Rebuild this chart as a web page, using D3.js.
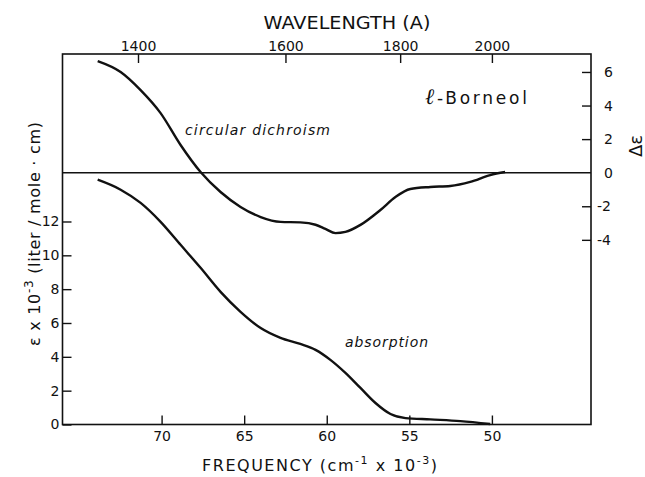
<!DOCTYPE html>
<html>
<head>
<meta charset="utf-8">
<script src="https://cdn.jsdelivr.net/npm/d3@7"></script>
<style>
  html, body { margin: 0; padding: 0; background: #fff; }
  svg { display: block; }
  text { font-family: "DejaVu Sans", sans-serif; fill: #111; }
</style>
</head>
<body>
<svg id="chart" width="645" height="477"></svg>
<script>
// ---- data ----
const freqTicks = [70, 65, 60, 55, 50];
const wavelengthTicks = [1400, 1600, 1800, 2000];
const epsTicks = [0, 2, 4, 6, 8, 10, 12];
const dEpsTicks = [6, 4, 2, 0, -2, -4];

// circular dichroism (frequency kcm^-1, Δε)
const cdFreq = [73.87, 72.48, 71.27, 70.06, 68.85, 67.64, 66.43, 65.22, 64.0, 62.8, 61.6, 60.68, 60.08, 59.47, 58.87, 57.96, 56.75, 55.84, 54.94, 53.73, 52.52, 51.31, 50.1, 49.2];
const cdVal  = [6.65, 6.0, 4.92, 3.55, 1.65, 0.04, -1.15, -2.04, -2.64, -2.93, -2.96, -3.1, -3.35, -3.6, -3.53, -3.11, -2.22, -1.45, -0.97, -0.85, -0.79, -0.55, -0.14, 0.04];

// absorption (frequency kcm^-1, ε x 10^-3)
const absFreq = [73.87, 72.48, 71.27, 70.06, 68.85, 67.64, 66.43, 65.22, 64.0, 62.8, 61.6, 60.68, 59.78, 58.87, 57.96, 57.05, 56.14, 55.23, 53.73, 51.91, 50.1];
const absVal  = [14.47, 13.88, 13.1, 11.98, 10.62, 9.26, 7.84, 6.66, 5.7, 5.12, 4.76, 4.41, 3.82, 3.05, 2.16, 1.27, 0.62, 0.38, 0.3, 0.2, 0.03];

// ---- layout ----
const svg = d3.select("#chart");
const L = 62.5, R = 591, T = 54, B = 424.5;

const x = d3.scaleLinear().domain([76, 44]).range([L, R]);
const yAbs = d3.scaleLinear().domain([0, 21.9]).range([B, T]);
const yCD = d3.scaleLinear().domain([-15, 7.07]).range([B, T]);

const ink = "#111";

// frame
svg.append("rect").attr("x", L).attr("y", T).attr("width", R - L).attr("height", B - T)
  .attr("fill", "none").attr("stroke", ink).attr("stroke-width", 1.6);

// zero line of CD
svg.append("line").attr("x1", L).attr("x2", R).attr("y1", yCD(0)).attr("y2", yCD(0))
  .attr("stroke", ink).attr("stroke-width", 1.6);

function styleAxis(g) {
  g.select(".domain").remove();
  g.selectAll(".tick line").attr("stroke", ink).attr("stroke-width", 1.4);
  g.selectAll(".tick text").attr("fill", ink).style("font-family", "DejaVu Sans, sans-serif").style("font-size", "14px");
}

// bottom axis
svg.append("g").attr("transform", `translate(0,${B})`)
  .call(d3.axisBottom(x).tickValues(freqTicks).tickSize(-9).tickPadding(7).tickFormat(d3.format("d")))
  .call(styleAxis);

// top axis (wavelength in Å -> frequency = 1e5/λ)
svg.append("g").attr("transform", `translate(0,${T})`)
  .call(d3.axisTop(x).tickValues(wavelengthTicks.map(w => 1e5 / w)).tickSize(-9).tickPadding(3)
    .tickFormat(f => String(Math.round(1e5 / f))))
  .call(styleAxis);

// left axis
svg.append("g").attr("transform", `translate(${L},0)`)
  .call(d3.axisLeft(yAbs).tickValues(epsTicks).tickSize(-9).tickPadding(3).tickFormat(d3.format("d")))
  .call(styleAxis);

// right axis
const rAx = svg.append("g").attr("transform", `translate(${R},0)`)
  .call(d3.axisRight(yCD).tickValues(dEpsTicks).tickSize(-9).tickPadding(13)
    .tickFormat(d => d < 0 ? "-" + Math.abs(d) : String(d)))
  .call(styleAxis);
rAx.selectAll(".tick text").attr("x", d => d < 0 ? 6 : 13);
rAx.selectAll(".tick").filter(d => d === 0).select("line").remove();

// curves
const lineCD = d3.line().x((d, i) => x(cdFreq[i])).y(d => yCD(d)).curve(d3.curveMonotoneX);
const lineAbs = d3.line().x((d, i) => x(absFreq[i])).y(d => yAbs(d)).curve(d3.curveMonotoneX);

svg.append("path").attr("d", lineCD(cdVal)).attr("fill", "none").attr("stroke", ink).attr("stroke-width", 2.4);
svg.append("path").attr("d", lineAbs(absVal)).attr("fill", "none").attr("stroke", ink).attr("stroke-width", 2.4);

// titles
svg.append("text").attr("x", 347).attr("y", 28.5).attr("text-anchor", "middle")
  .style("font-size", "17px").attr("textLength", 167).attr("lengthAdjust", "spacingAndGlyphs")
  .text("WAVELENGTH (A)");

const fx = svg.append("text").attr("x", 202).attr("y", 471).style("font-size", "16px")
  .attr("textLength", 235).attr("lengthAdjust", "spacing");
fx.append("tspan").text("FREQUENCY (cm");
fx.append("tspan").attr("dy", -7).style("font-size", "11px").text("-1");
fx.append("tspan").attr("dy", 7).text(" x 10");
fx.append("tspan").attr("dy", -7).style("font-size", "11px").text("-3");
fx.append("tspan").attr("dy", 7).text(")");

const ly = svg.append("text").attr("transform", "translate(40,346) rotate(-90)").style("font-size", "16px")
  .attr("textLength", 224).attr("lengthAdjust", "spacing");
ly.append("tspan").text("ε x 10");
ly.append("tspan").attr("dy", -7).style("font-size", "12px").text("-3");
ly.append("tspan").attr("dy", 7).text(" (liter / mole · cm)");

svg.append("text").attr("transform", "translate(642,157) rotate(-90)").style("font-size", "18px").text("Δε");

// annotations
svg.append("text").attr("x", 185).attr("y", 135).style("font-size", "14px").style("font-style", "italic")
  .attr("textLength", 145).attr("lengthAdjust", "spacing")
  .text("circular dichroism");
svg.append("text").attr("x", 345).attr("y", 347).style("font-size", "14px").style("font-style", "italic")
  .attr("textLength", 83).attr("lengthAdjust", "spacing")
  .text("absorption");
const bt = svg.append("text").attr("x", 425).attr("y", 104).style("font-size", "17px")
  .attr("textLength", 102).attr("lengthAdjust", "spacing");
bt.append("tspan").style("font-style", "italic").style("font-family", "DejaVu Serif, serif").style("font-size", "22px").text("ℓ");
bt.append("tspan").text("-Borneol");
</script>
</body>
</html>
